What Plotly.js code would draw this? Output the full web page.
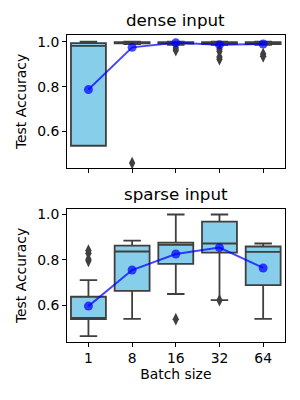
<!DOCTYPE html>
<html>
<head>
<meta charset="utf-8">
<script src="https://cdn.plot.ly/plotly-3.0.1.min.js"></script>
<style>html,body{margin:0;padding:0;background:#fff;}#chart{width:300px;height:400px;}</style>
</head>
<body>
<div id="chart"></div>
<script>
// ---- data ----
var batchSizes = ["1", "8", "16", "32", "64"];

var denseQ1     = [0.537, 0.993, 0.992, 0.991, 0.990];
var denseMedian = [0.982, 0.996, 0.996, 0.995, 0.994];
var denseQ3     = [0.994, 0.998, 0.998, 0.998, 0.998];
var denseLow    = [0.537, 0.990, 0.986, 0.986, 0.986];
var denseHigh   = [1.000, 1.000, 1.000, 1.000, 1.000];
var denseMean   = [0.787, 0.975, 0.995, 0.987, 0.990];
var denseOutX   = ["8", "16", "16", "32", "32", "32", "32", "64", "64"];
var denseOutY   = [0.460, 0.972, 0.962, 0.968, 0.958, 0.932, 0.922, 0.945, 0.935];

var sparseQ1     = [0.540, 0.664, 0.782, 0.831, 0.689];
var sparseMedian = [0.545, 0.836, 0.865, 0.871, 0.834];
var sparseQ3     = [0.638, 0.862, 0.875, 0.967, 0.858];
var sparseLow    = [0.466, 0.541, 0.650, 0.623, 0.541];
var sparseHigh   = [0.711, 0.884, 0.998, 0.998, 0.871];
var sparseMean   = [0.597, 0.755, 0.825, 0.853, 0.764];
var sparseOutX   = ["1", "1", "1", "1", "16", "32"];
var sparseOutY   = [0.840, 0.828, 0.802, 0.795, 0.540, 0.623];

var titles = ["dense input", "sparse input"];
var yTickVals = [0.6, 0.8, 1.0];
var yTickText = ["0.6", "0.8", "1.0"];

// ---- style ----
var boxFill = "#87CEEB";
var edge = "#3f3f3f";
var meanColor = "rgba(0,0,255,0.72)";
var font = "DejaVu Sans, sans-serif";
var tickSize = 13.9, labelSize = 13.9, titleSize = 16.7;

function boxTrace(q1, med, q3, lo, hi, xa, ya) {
  return {
    type: "box", x: batchSizes, q1: q1, median: med, q3: q3,
    lowerfence: lo, upperfence: hi, boxpoints: false,
    fillcolor: boxFill, line: {color: edge, width: 1.8},
    width: 0.8, whiskerwidth: 0.5, xaxis: xa, yaxis: ya,
    showlegend: false, hoverinfo: "skip"
  };
}
function outTrace(xs, ys, xa, ya) {
  return {
    type: "scatter", mode: "markers", x: xs, y: ys, xaxis: xa, yaxis: ya,
    marker: {symbol: "diamond-tall", size: 9, color: edge}, showlegend: false
  };
}
function meanTrace(ys, xa, ya) {
  return {
    type: "scatter", mode: "lines+markers", x: batchSizes, y: ys, xaxis: xa, yaxis: ya,
    line: {color: meanColor, width: 2}, marker: {size: 9, color: meanColor},
    showlegend: false
  };
}

var data = [
  boxTrace(denseQ1, denseMedian, denseQ3, denseLow, denseHigh, "x", "y"),
  outTrace(denseOutX, denseOutY, "x", "y"),
  meanTrace(denseMean, "x", "y"),
  boxTrace(sparseQ1, sparseMedian, sparseQ3, sparseLow, sparseHigh, "x2", "y2"),
  outTrace(sparseOutX, sparseOutY, "x2", "y2"),
  meanTrace(sparseMean, "x2", "y2")
];

function xAxis(showLabels, anchor, title) {
  var ax = {
    type: "category", domain: [0.222, 0.95], anchor: anchor,
    range: [-0.5, 4.5], showgrid: false, zeroline: false,
    showline: true, mirror: true, linecolor: "#000", linewidth: 1,
    ticks: "outside", ticklen: 3.5, tickwidth: 1, tickcolor: "#000",
    showticklabels: showLabels, tickfont: {family: font, size: tickSize, color: "#000"}
  };
  if (title) ax.title = {text: title, font: {family: font, size: labelSize, color: "#000"}, standoff: 4};
  return ax;
}
function yAxis(domain, range, anchor) {
  return {
    domain: domain, range: range, anchor: anchor,
    showgrid: false, zeroline: false,
    showline: true, mirror: true, linecolor: "#000", linewidth: 1,
    ticks: "outside", ticklen: 3.5, tickwidth: 1, tickcolor: "#000",
    tickvals: yTickVals, ticktext: yTickText,
    tickfont: {family: font, size: tickSize, color: "#000"},
    title: {text: "Test Accuracy", font: {family: font, size: labelSize, color: "#000"}, standoff: 7}
  };
}

var layout = {
  width: 300, height: 400,
  margin: {l: 0, r: 0, t: 0, b: 0},
  paper_bgcolor: "#fff", plot_bgcolor: "#fff",
  font: {family: font, color: "#000"},
  xaxis: xAxis(false, "y"),
  yaxis: yAxis([0.58, 0.9125], [0.438, 1.030], "x"),
  xaxis2: xAxis(true, "y2", "Batch size"),
  yaxis2: yAxis([0.145, 0.4775], [0.44, 1.022], "x2"),
  annotations: [
    {text: titles[0], xref: "paper", yref: "paper", x: 0.586, y: 0.9125, yshift: 3,
     xanchor: "center", yanchor: "bottom", showarrow: false,
     font: {family: font, size: titleSize, color: "#000"}},
    {text: titles[1], xref: "paper", yref: "paper", x: 0.586, y: 0.4775, yshift: 3,
     xanchor: "center", yanchor: "bottom", showarrow: false,
     font: {family: font, size: titleSize, color: "#000"}}
  ]
};

Plotly.newPlot("chart", data, layout, {staticPlot: true, displayModeBar: false});
</script>
</body>
</html>
